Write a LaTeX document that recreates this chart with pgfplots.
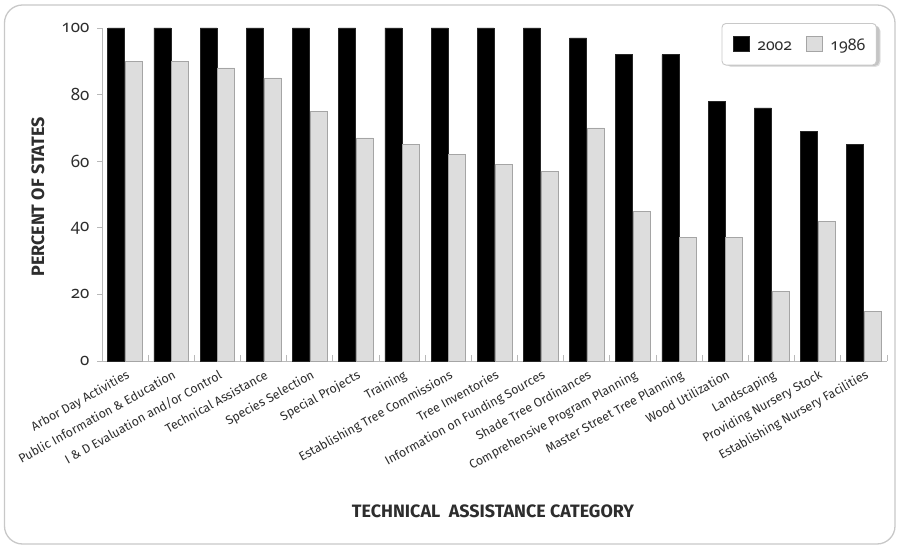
\documentclass[border=0pt]{standalone}
\usepackage{pgfplots}
\pgfplotsset{compat=1.18}
\usepackage{fontspec}
\setmainfont{Fira Sans}
\newfontfamily\numfont{Noto Sans}[Numbers=OldStyle]

\definecolor{barlight}{RGB}{221,221,221}
\definecolor{barlightedge}{RGB}{165,165,165}
\definecolor{axisgray}{RGB}{185,185,185}
\definecolor{framegray}{RGB}{200,200,200}
\definecolor{textdark}{RGB}{45,45,45}

\begin{document}
\begin{tikzpicture}
\useasboundingbox (0,0) rectangle (899bp,546bp);
% outer frame
\draw[framegray, line width=1.3bp, rounded corners=18bp] (4.5bp,2bp) rectangle (895bp,541bp);
% soft shadow under the legend box
\fill[black, opacity=0.12, rounded corners=5bp] (726bp,479bp) rectangle (880.5bp,520bp);
\fill[black, opacity=0.12, rounded corners=5bp] (725bp,480bp) rectangle (879.5bp,521bp);

\begin{axis}[
  at={(102bp,185bp)}, anchor=south west,
  scale only axis, width=785bp, height=333bp,
  clip=false,
  xmin=-0.5, xmax=16.5, ymin=0, ymax=100,
  axis lines*=left,
  axis line style={axisgray, line width=0.9bp},
  every axis plot/.append style={line width=0.6bp},
  ytick={0,20,...,100},
  tick align=outside,
  major tick length=5bp,
  y tick style={axisgray, line width=0.9bp},
  major x tick style={draw=none},
  xtick={0,...,16},
  minor xtick={-0.5,0.5,...,16.5},
  minor tick length=6bp,
  minor x tick style={axisgray, line width=0.9bp, yshift=6bp},
  /pgf/number format/assume math mode=true,
  yticklabel style={font=\numfont\fontsize{17}{19}\selectfont, text=textdark, xshift=-4bp},
  xticklabels={
    Arbor Day Activities,
    Public Information \& Education,
    I \& D Evaluation and/or Control,
    Technical Assistance,
    Species Selection,
    Special Projects,
    Training,
    Establishing Tree Commissions,
    Tree Inventories,
    Information on Funding Sources,
    Shade Tree Ordinances,
    Comprehensive Program Planning,
    Master Street Tree Planning,
    Wood Utilization,
    Landscaping,
    Providing Nursery Stock,
    Establishing Nursery Facilities},
  xticklabel style={rotate=29, anchor=north east, font=\fontsize{12.5}{14}\selectfont,
    text=textdark, xshift=0bp, yshift=-2bp, inner sep=1bp},
  legend columns=2,
  legend style={at={(0.987,1.015)}, anchor=north east,
    draw=framegray, line width=0.9bp, rounded corners=4bp, fill=white,
    font=\numfont\bfseries\fontsize{16}{18}\selectfont, text=textdark,
    inner xsep=11bp, inner ysep=13bp,
    nodes={inner sep=0pt, anchor=base west},
    /tikz/column sep=0pt,
    /tikz/every even column/.append style={column sep=14bp}},
  legend image code/.code={%
    \draw[#1, sharp corners] (0bp,-1.5bp) rectangle (16bp,13.5bp);
    \path[draw=none, fill=none] (0bp,0bp) rectangle (24bp,1bp);},
]
% 2002
\addplot[ybar, bar width=17bp, bar shift=-8.8bp, fill=black, draw=black!85]
  coordinates {(0,100) (1,100) (2,100) (3,100) (4,100) (5,100) (6,100) (7,100)
    (8,100) (9,100) (10,97) (11,92) (12,92) (13,78) (14,76) (15,69) (16,65)};
% 1986
\addplot[ybar, bar width=17bp, bar shift=8.8bp, fill=barlight, draw=barlightedge]
  coordinates {(0,90) (1,90) (2,88) (3,85) (4,75) (5,67) (6,65) (7,62)
    (8,59) (9,57) (10,70) (11,45) (12,37) (13,37) (14,21) (15,42) (16,15)};
\legend{2002,1986}
\end{axis}

\node[rotate=90, font=\bfseries\fontsize{18}{20}\selectfont, text=textdark]
  at (38bp,349bp) {PERCENT OF STATES};
\node[font=\bfseries\fontsize{18}{20}\selectfont, text=textdark]
  at (493bp,35bp) {TECHNICAL\ \ ASSISTANCE CATEGORY};
\end{tikzpicture}
\end{document}
